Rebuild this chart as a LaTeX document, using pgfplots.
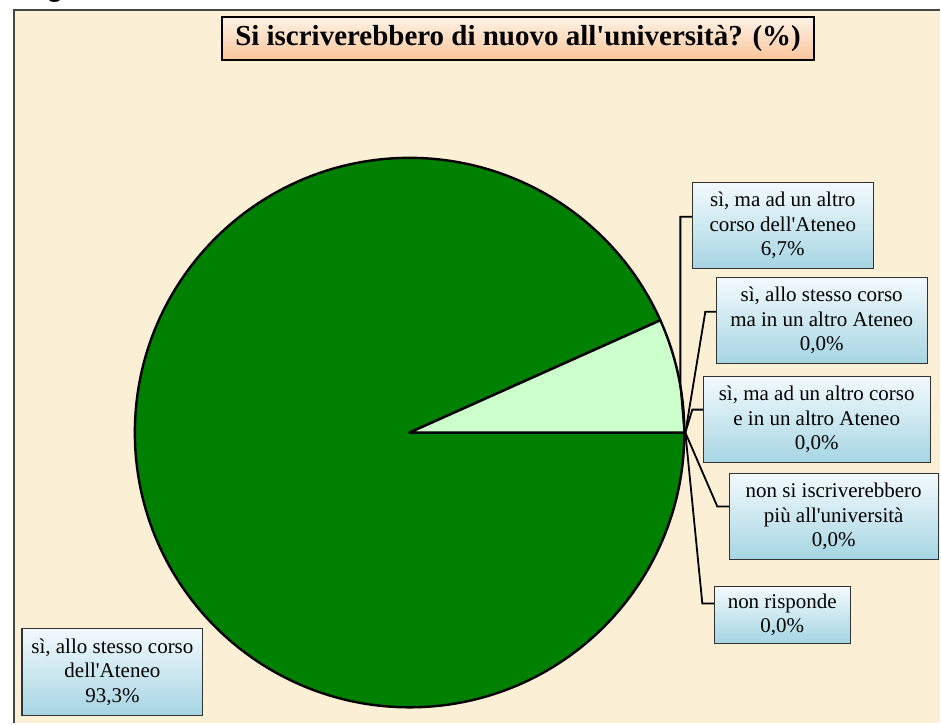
\documentclass[border=0pt]{standalone}
\usepackage{pgfplots}
\pgfplotsset{compat=1.18}
\usepackage{pgfplotstable}
\usepackage{fontspec}
\setmainfont{Liberation Serif}[Ligatures=TeXOff]
\newfontfamily\headsans{Liberation Sans}

\definecolor{bg}{RGB}{251,239,214}
\definecolor{frame}{RGB}{70,70,70}
\definecolor{dkgreen}{RGB}{0,128,0}
\definecolor{ltgreen}{RGB}{204,255,204}
\definecolor{boxtop}{RGB}{243,250,253}
\definecolor{boxbot}{RGB}{166,213,227}
\definecolor{boxline}{RGB}{50,50,50}
\definecolor{ttop}{RGB}{255,243,230}
\definecolor{tbot}{RGB}{249,197,155}

% percentages, clockwise from 3 o'clock
\pgfplotstableread[col sep=comma]{
label,value
stesso corso dell'Ateneo,93.3
altro corso dell'Ateneo,6.7
stesso corso altro Ateneo,0.0
altro corso altro Ateneo,0.0
non si iscriverebbero,0.0
non risponde,0.0
}\piedata
\pgfplotstablegetelem{0}{value}\of\piedata \let\vA\pgfplotsretval
\pgfplotstablegetelem{1}{value}\of\piedata \let\vB\pgfplotsretval
\pgfmathsetmacro\aS{360}
\pgfmathsetmacro\aA{\aS-3.6*\vA}
\pgfmathsetmacro\aB{\aA-3.6*\vB}

\newcommand\lbl[5]{%
  \shade[top color=boxtop,bottom color=boxbot] (axis cs:#1,#2) rectangle (axis cs:#3,#4);
  \draw[boxline,line width=1.1pt] (axis cs:#1,#2) rectangle (axis cs:#3,#4);
  \node[align=center,font=\fontsize{21}{24.5}\selectfont,inner sep=0pt]
    at (axis cs:{(#1+#3)/2},{(#2+#4)/2}) {#5};
}

\begin{document}
\begin{tikzpicture}
\begin{axis}[
  scale only axis, width=941pt, height=724pt,
  xmin=0, xmax=941, ymin=0, ymax=724,
  hide axis, clip=false,
]
% page and frame
\fill[white] (axis cs:0,0) rectangle (axis cs:941,724);
\fill[bg] (axis cs:14,0) rectangle (axis cs:941,714);
\draw[frame,line width=1.8pt] (axis cs:14,0) -- (axis cs:14,714) -- (axis cs:941,714);
\begin{scope}
\clip (axis cs:0,714) rectangle (axis cs:941,724);
\node[overlay,anchor=base,inner sep=0pt,font=\headsans\bfseries\fontsize{28}{30}\selectfont]
  at (axis cs:55,727) {g};
\end{scope}

% pie slices from the data
\filldraw[fill=dkgreen,draw=black,line width=2.4pt,line join=round]
  (axis cs:410,291) -- ++(\aS:275pt) arc[start angle=\aS,end angle=\aA,radius=275pt] -- cycle;
\filldraw[fill=ltgreen,draw=black,line width=2.4pt,line join=round]
  (axis cs:410,291) -- ++(\aA:275pt) arc[start angle=\aA,end angle=\aB,radius=275pt] -- cycle;

% leader lines
\draw[black,line width=1.8pt] (axis cs:693,507) -- (axis cs:681,507) -- (axis cs:681,339) -- (axis cs:685,291);
\draw[black,line width=1.8pt] (axis cs:717,412) -- (axis cs:706,412) -- (axis cs:686,291);
\draw[black,line width=1.8pt] (axis cs:704,314) -- (axis cs:693,314) -- (axis cs:686,291);
\draw[black,line width=1.8pt] (axis cs:730,217) -- (axis cs:718,217) -- (axis cs:686,291);
\draw[black,line width=1.8pt] (axis cs:715,120) -- (axis cs:703,120) -- (axis cs:686,291);

% labels
\lbl{693}{541}{874}{455}{sì, ma ad un altro\\corso dell'Ateneo\\6,7\%}
\lbl{717}{446}{928}{360}{sì, allo stesso corso\\ma in un altro Ateneo\\0,0\%}
\lbl{704}{347}{931}{261}{sì, ma ad un altro corso\\e in un altro Ateneo\\0,0\%}
\lbl{730}{250}{939}{164}{non si iscriverebbero\\più all'università\\0,0\%}
\lbl{715}{137}{851}{80}{non risponde\\0,0\%}
\lbl{22}{95}{203}{8}{sì, allo stesso corso\\dell'Ateneo\\93,3\%}

% title
\shade[top color=ttop,bottom color=tbot] (axis cs:222,707) rectangle (axis cs:815,664);
\draw[black,line width=1.6pt] (axis cs:222,707) rectangle (axis cs:815,664);
\node[font=\fontsize{29}{34}\selectfont\bfseries,inner sep=0pt]
  at (axis cs:518.5,685.5) {Si iscriverebbero di nuovo all'università? (\%)};
\end{axis}
\end{tikzpicture}
\end{document}
